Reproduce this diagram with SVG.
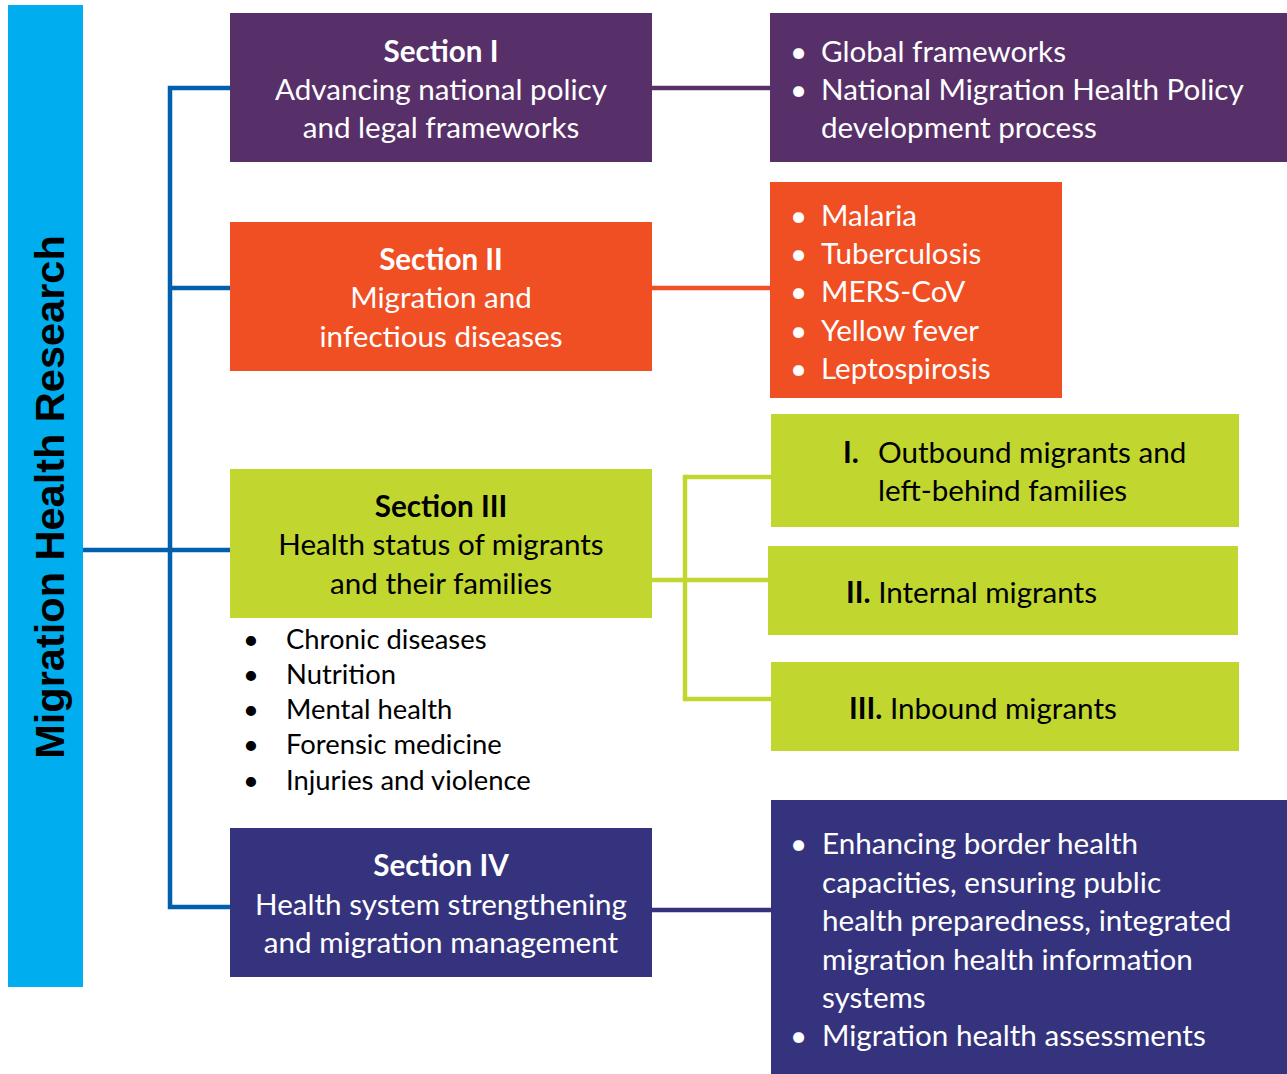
<svg xmlns="http://www.w3.org/2000/svg" width="1287" height="1074" viewBox="0 0 1287 1074">
<style>
.t{font-family:Lato,"Open Sans",sans-serif;font-size:29.6px}
.w{fill:#ffffff}
.k{fill:#000000}
.b{font-weight:bold}
.m{text-anchor:middle}
.s{font-size:27.4px}
.ln{fill:none;stroke-width:4.5}
</style>
<rect x="0" y="0" width="1287" height="1074" fill="#ffffff"/>
<g id="title">
<rect x="8" y="5" width="75" height="982" fill="#00AEEF"/>
<text transform="translate(64,497) rotate(-90)" text-anchor="middle" font-family="'Liberation Sans',Arial,sans-serif" font-weight="bold" font-size="41.5" fill="#000">Migration Health Research</text>
</g>
<g id="connectors">
<path class="ln" stroke="#0060AE" d="M83,550 H230 M230,88 H170 V907 H230 M170,288 H230"/>
<path class="ln" stroke="#573069" d="M652,88 H770"/>
<path class="ln" stroke="#F04E23" d="M652,288 H770"/>
<path class="ln" stroke="#C1D72F" d="M652,580 H768 M771,477 H685 V699 H771"/>
<path class="ln" stroke="#35337D" d="M652,910 H771"/>
</g>
<g id="section1">
<rect x="230" y="13" width="422" height="149" fill="#573069"/>
<text class="t w m b" x="441" y="62">Section I</text>
<text class="t w m" x="441" y="100">Advancing national policy</text>
<text class="t w m" x="441" y="138">and legal frameworks</text>
</g>
<g id="section1-items">
<rect x="770" y="13" width="517" height="149" fill="#573069"/>
<text class="t w" x="790" y="62">•</text>
<text class="t w" x="821" y="62">Global frameworks</text>
<text class="t w" x="790" y="100">•</text>
<text class="t w" x="821" y="100">National Migration Health Policy</text>
<text class="t w" x="821" y="138">development process</text>
</g>
<g id="section2">
<rect x="230" y="222" width="422" height="149" fill="#F04E23"/>
<text class="t w m b" x="441" y="270">Section II</text>
<text class="t w m" x="441" y="308">Migration and</text>
<text class="t w m" x="441" y="347">infectious diseases</text>
</g>
<g id="section2-items">
<rect x="770" y="182" width="292" height="216" fill="#F04E23"/>
<text class="t w" x="790" y="226">•</text><text class="t w" x="821" y="226">Malaria</text>
<text class="t w" x="790" y="264">•</text><text class="t w" x="821" y="264">Tuberculosis</text>
<text class="t w" x="790" y="302">•</text><text class="t w" x="821" y="302">MERS-CoV</text>
<text class="t w" x="790" y="341">•</text><text class="t w" x="821" y="341">Yellow fever</text>
<text class="t w" x="790" y="379">•</text><text class="t w" x="821" y="379">Leptospirosis</text>
</g>
<g id="section3">
<rect x="230" y="469" width="422" height="149" fill="#C1D72F"/>
<text class="t k m b" x="441" y="517">Section III</text>
<text class="t k m" x="441" y="555">Health status of migrants</text>
<text class="t k m" x="441" y="594">and their families</text>
</g>
<g id="section3-list">
<text class="t s k" x="243" y="649">•</text><text class="t s k" x="286" y="649">Chronic diseases</text>
<text class="t s k" x="243" y="684">•</text><text class="t s k" x="286" y="684">Nutrition</text>
<text class="t s k" x="243" y="719">•</text><text class="t s k" x="286" y="719">Mental health</text>
<text class="t s k" x="243" y="754">•</text><text class="t s k" x="286" y="754">Forensic medicine</text>
<text class="t s k" x="243" y="790">•</text><text class="t s k" x="286" y="790">Injuries and violence</text>
</g>
<g id="group-outbound">
<rect x="771" y="414" width="468" height="113" fill="#C1D72F"/>
<text class="t k b" x="843" y="463">I.</text>
<text class="t k" x="878" y="463">Outbound migrants and</text>
<text class="t k" x="878" y="501">left-behind families</text>
</g>
<g id="group-internal">
<rect x="768" y="546" width="470" height="89" fill="#C1D72F"/>
<text class="t k" x="846" y="603"><tspan class="b">II.</tspan> Internal migrants</text>
</g>
<g id="group-inbound">
<rect x="771" y="662" width="468" height="89" fill="#C1D72F"/>
<text class="t k" x="849" y="719"><tspan class="b">III.</tspan> Inbound migrants</text>
</g>
<g id="section4">
<rect x="230" y="828" width="422" height="149" fill="#35337D"/>
<text class="t w m b" x="441" y="876">Section IV</text>
<text class="t w m" x="441" y="915">Health system strengthening</text>
<text class="t w m" x="441" y="953">and migration management</text>
</g>
<g id="section4-items">
<rect x="771" y="800" width="516" height="274" fill="#35337D"/>
<text class="t w" x="790" y="854">•</text><text class="t w" x="822" y="854">Enhancing border health</text>
<text class="t w" x="822" y="893">capacities, ensuring public</text>
<text class="t w" x="822" y="931">health preparedness, integrated</text>
<text class="t w" x="822" y="970">migration health information</text>
<text class="t w" x="822" y="1008">systems</text>
<text class="t w" x="790" y="1046">•</text><text class="t w" x="822" y="1046">Migration health assessments</text>
</g>
</svg>
